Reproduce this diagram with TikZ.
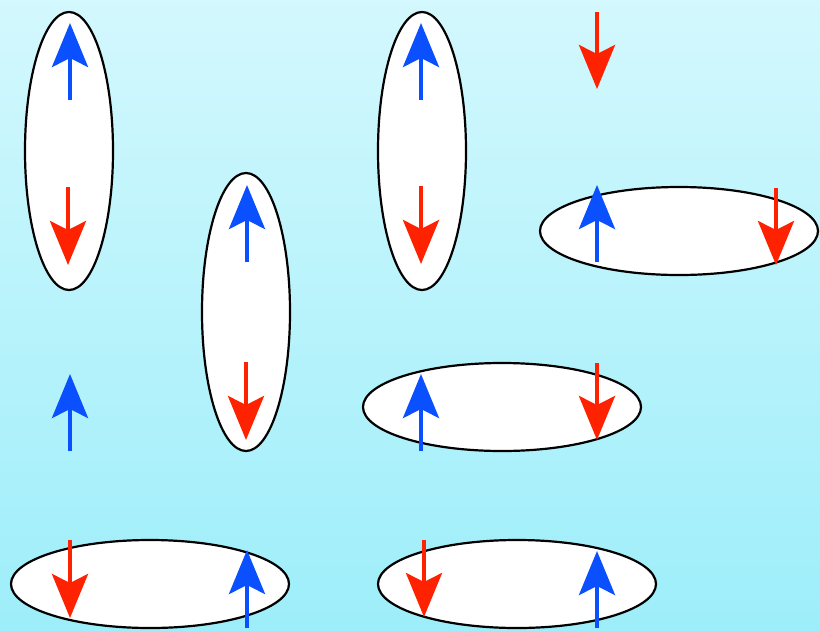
\documentclass[tikz,border=0pt]{standalone}
\usetikzlibrary{arrows.meta}
\definecolor{bgtop}{HTML}{D3F8FD}
\definecolor{bgbot}{HTML}{9DEEFA}
\definecolor{spinup}{HTML}{0A50FF}
\definecolor{spindown}{HTML}{FF2200}
\tikzset{
  pair/.style={draw=black, line width=2.2pt, fill=white},
  upspin/.style={draw=spinup, line width=4pt, -{Stealth[length=44pt,width=36pt,inset=9pt]}},
  downspin/.style={draw=spindown, line width=4pt, -{Stealth[length=44pt,width=36pt,inset=9pt]}}
}
\begin{document}
\begin{tikzpicture}[x=1pt,y=-1pt]
\useasboundingbox (0,0) rectangle (820,630);
\shade[top color=bgtop, bottom color=bgbot] (0,0) rectangle (820,630);
% ellipses
\draw[pair] (69,151) ellipse [x radius=44, y radius=139];
\draw[pair] (246,312) ellipse [x radius=44, y radius=139];
\draw[pair] (422,151) ellipse [x radius=44, y radius=139];
\draw[pair] (679,231) ellipse [x radius=139, y radius=44];
\draw[pair] (502,407) ellipse [x radius=139, y radius=44];
\draw[pair] (150,584) ellipse [x radius=139, y radius=44];
\draw[pair] (517,584) ellipse [x radius=139, y radius=44];
% arrows
\coordinate (a1s) at (70,100); \coordinate (a1e) at (70,23);
\draw[upspin] (a1s) -- (a1e);
\coordinate (b1s) at (68,187); \coordinate (b1e) at (68,265);
\draw[downspin] (b1s) -- (b1e);
\coordinate (a2s) at (247,262); \coordinate (a2e) at (247,185);
\draw[upspin] (a2s) -- (a2e);
\coordinate (b2s) at (246,362); \coordinate (b2e) at (246,440);
\draw[downspin] (b2s) -- (b2e);
\coordinate (a3s) at (421,100); \coordinate (a3e) at (421,23);
\draw[upspin] (a3s) -- (a3e);
\coordinate (b3s) at (421,186); \coordinate (b3e) at (421,264);
\draw[downspin] (b3s) -- (b3e);
\coordinate (b4s) at (597,12); \coordinate (b4e) at (597,89);
\draw[downspin] (b4s) -- (b4e);
\coordinate (a5s) at (597,262); \coordinate (a5e) at (597,185);
\draw[upspin] (a5s) -- (a5e);
\coordinate (b5s) at (776,188); \coordinate (b5e) at (776,265);
\draw[downspin] (b5s) -- (b5e);
\coordinate (a6s) at (70,451); \coordinate (a6e) at (70,374);
\draw[upspin] (a6s) -- (a6e);
\coordinate (a7s) at (421,451); \coordinate (a7e) at (421,374);
\draw[upspin] (a7s) -- (a7e);
\coordinate (b7s) at (597,363); \coordinate (b7e) at (597,440);
\draw[downspin] (b7s) -- (b7e);
\coordinate (b8s) at (70,540); \coordinate (b8e) at (70,618);
\draw[downspin] (b8s) -- (b8e);
\coordinate (a8s) at (247,628); \coordinate (a8e) at (247,550);
\draw[upspin] (a8s) -- (a8e);
\coordinate (b9s) at (424,540); \coordinate (b9e) at (424,617);
\draw[downspin] (b9s) -- (b9e);
\coordinate (a9s) at (597,628); \coordinate (a9e) at (597,551);
\draw[upspin] (a9s) -- (a9e);
\end{tikzpicture}
\end{document}
